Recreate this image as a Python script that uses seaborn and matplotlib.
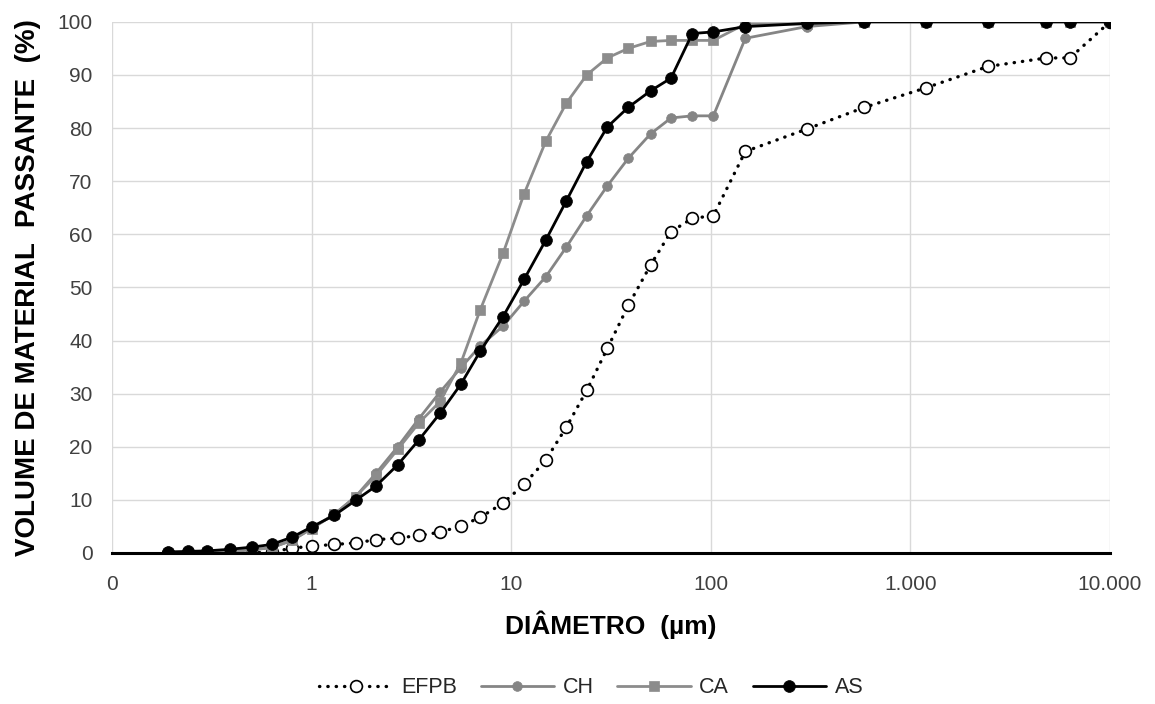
import matplotlib
matplotlib.use("Agg")
import matplotlib.pyplot as plt
import matplotlib.ticker as mticker
import seaborn as sns

# particle size distribution data (diameter in um, cumulative % passing)
diametro = [0.19, 0.24, 0.30, 0.39, 0.50, 0.63, 0.80, 1.0, 1.3, 1.66,
            2.1, 2.7, 3.45, 4.4, 5.6, 7.0, 9.1, 11.6, 14.9, 18.9,
            23.9, 30.3, 38.6, 49.9, 63.2, 80.8, 103, 149, 302, 589,
            1202, 2450, 4800, 6300, 10000]

efpb = [0, 0, 0, 0, 0, 0.2, 0.9, 1.3, 1.6, 1.9,
        2.5, 2.8, 3.3, 3.9, 5.1, 6.7, 9.4, 12.9, 17.5, 23.7,
        30.6, 38.5, 46.6, 54.2, 60.5, 63.0, 63.5, 75.6, 79.8, 83.9,
        87.6, 91.6, 93.2, 93.2, 100]

ch = [0, 0, 0.1, 0.3, 0.6, 1.0, 2.4, 4.6, 7.3, 10.6,
      15.0, 20.0, 25.3, 30.3, 34.9, 39.0, 42.7, 47.4, 52.0, 57.6,
      63.5, 69.1, 74.3, 78.9, 81.9, 82.3, 82.3, 96.9, 99.1, 100,
      100, 100, 100, 100, 100]

ca = [0, 0, 0.1, 0.3, 0.6, 1.0, 2.4, 4.6, 7.3, 10.6,
      14.5, 19.5, 24.5, 28.5, 35.8, 45.8, 56.4, 67.6, 77.5, 84.7,
      90.0, 93.2, 95.0, 96.3, 96.5, 96.5, 96.5, 99.6, 99.6, 100,
      100, 100, 100, 100, 100]

as_ = [0.2, 0.3, 0.4, 0.7, 1.1, 1.6, 3.0, 4.9, 7.1, 9.9,
       12.6, 16.6, 21.3, 26.3, 31.8, 38.0, 44.5, 51.5, 58.9, 66.3,
       73.7, 80.2, 83.9, 87.0, 89.4, 97.8, 98.1, 99.1, 99.7, 100,
       100, 100, 100, 100, 100]

x_ticks = [0.1, 1, 10, 100, 1000, 10000]
x_labels = ['0', '1', '10', '100', '1.000', '10.000']

sns.set_theme(style="whitegrid")
plt.rcParams['font.family'] = ['Liberation Sans', 'DejaVu Sans']

fig = plt.figure(figsize=(11.55, 7.04), dpi=100)
ax = fig.add_axes([0.097, 0.2145, 0.864, 0.7545])

sns.lineplot(x=diametro, y=efpb, ax=ax, color='black', linewidth=2.4,
             linestyle=(0, (0.1, 2.4)), dash_capstyle='round',
             marker='o', markersize=8.5, markerfacecolor='white',
             markeredgecolor='black', markeredgewidth=1.2,
             label='EFPB', errorbar=None)
sns.lineplot(x=diametro, y=ch, ax=ax, color='#858585', linewidth=2,
             marker='o', markersize=7, markeredgecolor='#858585',
             markeredgewidth=0.5, label='CH', errorbar=None)
sns.lineplot(x=diametro, y=ca, ax=ax, color='#8c8c8c', linewidth=2,
             marker='s', markersize=7.5, markeredgecolor='#8c8c8c',
             markeredgewidth=0.5, label='CA', errorbar=None)
sns.lineplot(x=diametro, y=as_, ax=ax, color='black', linewidth=2,
             marker='o', markersize=8.5, markeredgecolor='black',
             markeredgewidth=0.5, label='AS', errorbar=None)

ax.set_xscale('log')
ax.set_xlim(0.1, 10000)
ax.set_ylim(0, 100)
ax.set_xticks(x_ticks)
ax.set_xticklabels(x_labels)
ax.xaxis.set_minor_locator(mticker.NullLocator())
ax.set_yticks(range(0, 101, 10))

ax.grid(True, color='#d9d9d9', linewidth=1)
for s in ['left', 'top', 'right']:
    ax.spines[s].set_visible(False)
ax.spines['bottom'].set_color('black')
ax.spines['bottom'].set_linewidth(2.2)
ax.spines['bottom'].set_zorder(5)

ax.tick_params(axis='both', length=0, labelsize=15, colors='#404040')
ax.tick_params(axis='x', pad=16)
ax.tick_params(axis='y', pad=14)

ax.set_xlabel('DIÂMETRO  (µm)', fontsize=19, fontweight='bold',
              color='black', labelpad=12)
ax.set_ylabel('VOLUME DE MATERIAL  PASSANTE  (%)', fontsize=20,
              fontweight='bold', color='black', labelpad=12)

handles, labels = ax.get_legend_handles_labels()
ax.get_legend().remove()
fig.legend(handles, labels, loc='center', bbox_to_anchor=(0.512, 0.023),
           ncol=4, frameon=False, fontsize=15.5, handlelength=3.4,
           handletextpad=0.4, columnspacing=1.1, labelcolor='#262626')

fig.savefig('out.png', dpi=100)
